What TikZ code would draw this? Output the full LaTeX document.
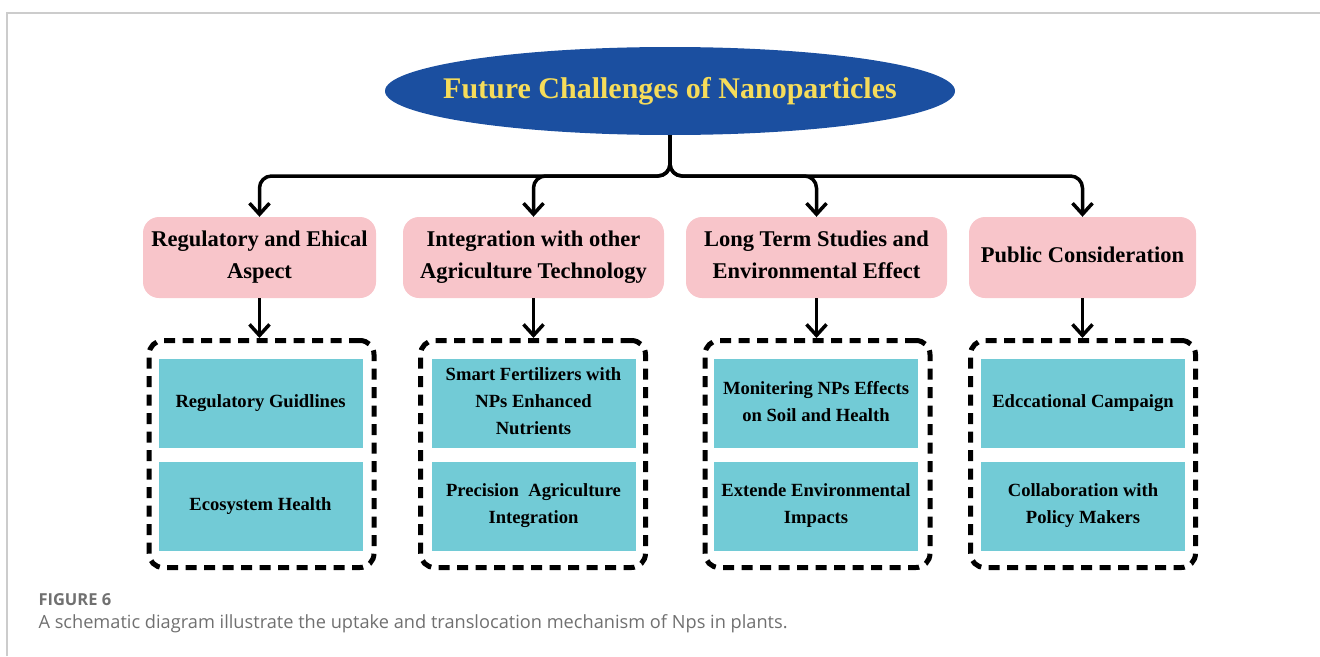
\documentclass[tikz,border=0pt]{standalone}
\usepackage{fontspec}
\setmainfont{Liberation Serif}
\newfontfamily\capfont{Open Sans}
\usepackage{xcolor}
\usetikzlibrary{positioning,arrows.meta,shapes.geometric}
\definecolor{ttlblue}{RGB}{27,79,160}
\definecolor{ttlyellow}{RGB}{246,220,90}
\definecolor{aspectpink}{RGB}{248,197,202}
\definecolor{itemcyan}{RGB}{114,203,214}
\definecolor{framegray}{RGB}{204,204,204}
\definecolor{capgray}{RGB}{112,112,112}

\begin{document}
\begin{tikzpicture}[
  x=1pt, y=-1pt,
  every node/.style={font=\bfseries},
  ttl/.style={text=ttlyellow, inner sep=0pt, font=\fontsize{30}{36}\selectfont\bfseries},
  aspect/.style={fill=aspectpink, rounded corners=16pt, minimum height=81pt,
                 align=center, inner sep=2pt, text depth=5pt,
                 font=\fontsize{22.5}{32}\selectfont\bfseries},
  grp/.style={draw, line width=5pt, dash pattern=on 11pt off 7.5pt,
              rounded corners=14pt, minimum width=225pt, minimum height=227pt,
              inner sep=0pt},
  item/.style={fill=itemcyan, minimum width=204pt, minimum height=89pt,
               align=center, inner sep=2pt, text depth=4pt,
               font=\fontsize{18.6}{27}\selectfont\bfseries},
  conn/.style={-{Straight Barb[length=11pt, width=20pt, line width=3.5pt]},
               line width=3.5pt},
]
  \useasboundingbox (0,0) rectangle (1320,656);
  % page frame
  \draw[framegray, line width=1.3pt] (7,656) -- (7,13) -- (1320,13);

  % root
  \fill[ttlblue] (670,91) ellipse [x radius=285, y radius=44];
  \node[ttl] (title) at (670,91) {Future Challenges of Nanoparticles};
  \coordinate (titleBase) at (670,135);
  \coordinate (hub) at (670,176);

  % four challenge areas
  \node[aspect, minimum width=233pt] (reg)   at (259.5,257.5) {Regulatory and Ehical\\Aspect};
  \node[aspect, minimum width=261pt] (integ) at (533.5,257.5) {Integration with other\\Agriculture Technology};
  \node[aspect, minimum width=261pt] (lterm) at (816.5,257.5) {Long Term Studies and\\Environmental Effect};
  \node[aspect, minimum width=227pt] (pub)   at (1082.5,257.5) {Public Consideration};

  % dashed groups
  \node[grp] (regGrp)   at (261.5,454) {};
  \node[grp] (integGrp) at (533,454) {};
  \node[grp] (ltermGrp) at (817.5,454) {};
  \node[grp] (pubGrp)   at (1083,454) {};

  % items inside the groups
  \node[item] (guide)  at (260.5,403.5) {Regulatory Guidlines};
  \node[item] (eco)    at (260.5,506)   {Ecosystem Health};
  \node[item] (smart)  at (533.5,403.5) {Smart Fertilizers with\\NPs Enhanced\\Nutrients};
  \node[item] (prec)   at (533.5,506)   {Precision\ \ Agriculture\\Integration};
  \node[item] (monit)  at (816,403.5)   {Monitering NPs Effects\\on Soil and Health};
  \node[item] (extend) at (816,506)     {Extende Environmental\\Impacts};
  \node[item] (edu)    at (1083,403.5)  {Edccational Campaign};
  \node[item] (collab) at (1083,506)    {Collaboration with\\Policy Makers};

  % tree connectors
  \foreach \n in {reg,integ,lterm,pub}
    \draw[conn, rounded corners=12pt] (titleBase) -- (hub) -| (\n.north);
  \foreach \n in {reg,integ,lterm,pub}
    \draw[conn] (\n.south) -- (\n.south |- \n Grp.north);

  % caption
  \node[anchor=west, text=capgray, font=\capfont\fontsize{16.5}{18}\selectfont\bfseries] (figno)
    at (35,600) {FIGURE 6};
  \node[anchor=west, text=capgray, font=\capfont\fontsize{18.2}{22}\selectfont\mdseries] (caption)
    at (35,624) {A schematic diagram illustrate the uptake and translocation mechanism of Nps in plants.};
\end{tikzpicture}
\end{document}
